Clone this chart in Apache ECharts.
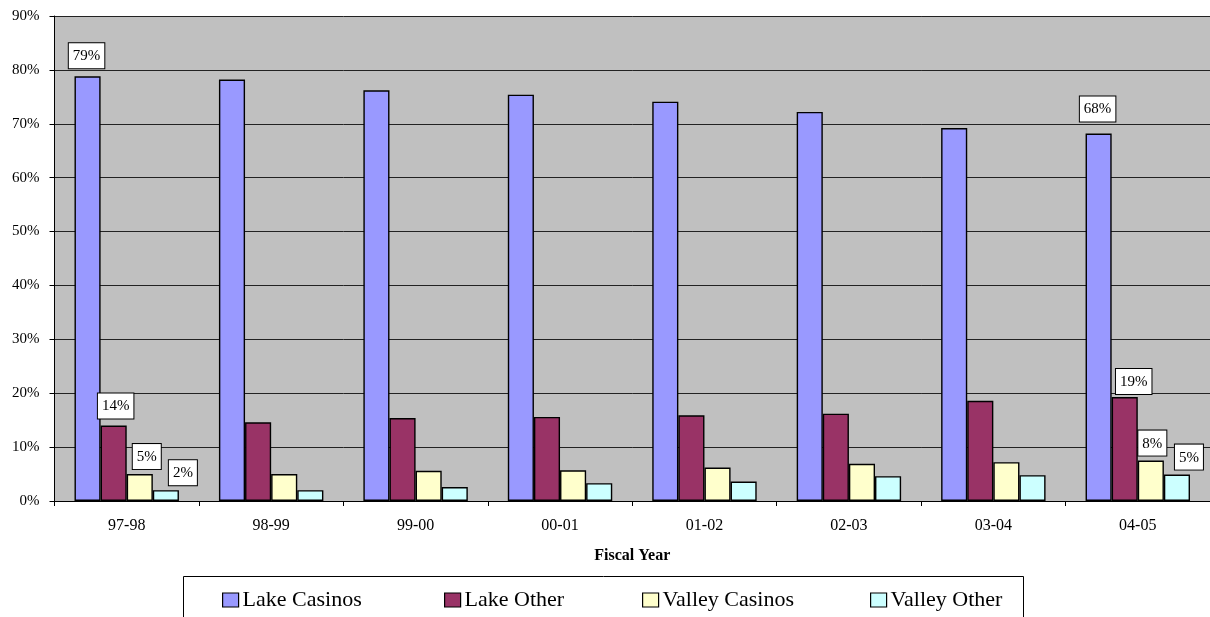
<!DOCTYPE html>
<html>
<head>
<meta charset="utf-8">
<title>Fiscal Year Shares</title>
<script src="https://cdn.jsdelivr.net/npm/echarts@6/dist/echarts.min.js"></script>
<style>
  html, body { margin: 0; padding: 0; background: #fff; }
  #chart { width: 1210px; height: 617px; }
</style>
</head>
<body>
<div id="chart"></div>
<script>
// Fiscal years and each group's share (percent)
const categories = ['97-98', '98-99', '99-00', '00-01', '01-02', '02-03', '03-04', '04-05'];
const seriesNames = ['Lake Casinos', 'Lake Other', 'Valley Casinos', 'Valley Other'];
const lakeCasinos = [78.8, 78.2, 76.2, 75.4, 74.1, 72.2, 69.2, 68.2];
const lakeOther = [14.0, 14.6, 15.4, 15.6, 15.9, 16.2, 18.6, 19.3];
const valleyCasinos = [5.0, 5.0, 5.6, 5.7, 6.2, 6.9, 7.2, 7.5];
const valleyOther = [2.0, 2.0, 2.6, 3.3, 3.6, 4.6, 4.8, 4.9];
const yTicks = { min: 0, max: 90, step: 10 };

const FONT = '"Liberation Serif", "Times New Roman", serif';
const colors = ['#9999FF', '#993366', '#FFFFCC', '#CCFFFF'];

// Value callouts on the first and last years: [dx, distance above bar]
const calloutPlacement = [
  { 0: [-1, 8], 7: [-1, 12] },
  { 0: [2, 7], 7: [9, 3] },
  { 0: [7, 5], 7: [1.5, 5] },
  { 0: [17, 5], 7: [12, 5] }
];

const allValues = [lakeCasinos, lakeOther, valleyCasinos, valleyOther];

function buildData(values, si) {
  return values.map((v, i) => {
    const place = calloutPlacement[si][i];
    if (!place) return v;
    return {
      value: v,
      label: {
        show: true,
        position: 'top',
        distance: place[1],
        offset: [place[0], 0],
        formatter: p => Math.round(p.value) + '%',
        fontFamily: FONT,
        fontSize: 15,
        lineHeight: 16,
        color: '#000',
        backgroundColor: '#fff',
        borderColor: '#000',
        borderWidth: 1,
        padding: [5, 4, 4, 4]
      }
    };
  });
}

const series = seriesNames.map((name, si) => ({
  name,
  type: 'bar',
  data: buildData(allValues[si], si),
  barGap: '0%',
  barCategoryGap: '27.7%',
  itemStyle: { color: colors[si], borderColor: '#000', borderWidth: 1.4 },
  emphasis: { disabled: true }
}));

// Legend entries, each placed on its own along the bottom row
const legendLefts = [222, 444, 642, 870];
const legends = seriesNames.map((name, i) => ({
  data: [name],
  left: legendLefts[i],
  top: 589,
  padding: 0,
  itemWidth: 16,
  itemHeight: 14,
  icon: 'rect',
  selectedMode: false,
  itemStyle: { borderColor: '#000', borderWidth: 1.2 },
  textStyle: { fontFamily: FONT, fontSize: 22, color: '#000', padding: [0, 0, 0, -1] }
}));

const chart = echarts.init(document.getElementById('chart'), null, { renderer: 'canvas' });
chart.setOption({
  animation: false,
  backgroundColor: '#fff',
  grid: {
    left: 54.5, top: 16, width: 1166, height: 485,
    show: true, backgroundColor: '#C0C0C0', borderWidth: 0
  },
  legend: legends,
  graphic: [{
    type: 'rect',
    shape: { x: 183.5, y: 576.5, width: 840, height: 60 },
    style: { fill: 'none', stroke: '#000', lineWidth: 1 },
    silent: true,
    z: 0
  }],
  xAxis: {
    type: 'category',
    data: categories,
    name: 'Fiscal Year',
    nameLocation: 'middle',
    nameGap: 47,
    nameTextStyle: { fontFamily: FONT, fontSize: 16, fontWeight: 'bold', color: '#000', verticalAlign: 'top' },
    axisLine: { lineStyle: { color: '#000', width: 1 } },
    axisTick: { show: true, length: 5, lineStyle: { color: '#000' } },
    axisLabel: { fontFamily: FONT, fontSize: 16, color: '#000', margin: 17 },
    splitLine: { show: false }
  },
  yAxis: {
    type: 'value',
    min: yTicks.min,
    max: yTicks.max,
    interval: yTicks.step,
    axisLine: { show: true, lineStyle: { color: '#000', width: 1 } },
    axisTick: { show: true, length: 5, lineStyle: { color: '#000' } },
    axisLabel: { fontFamily: FONT, fontSize: 15, color: '#000', margin: 15, formatter: '{value}%' },
    splitLine: { show: true, lineStyle: { color: '#222', width: 1 } }
  },
  series
});
</script>
</body>
</html>
